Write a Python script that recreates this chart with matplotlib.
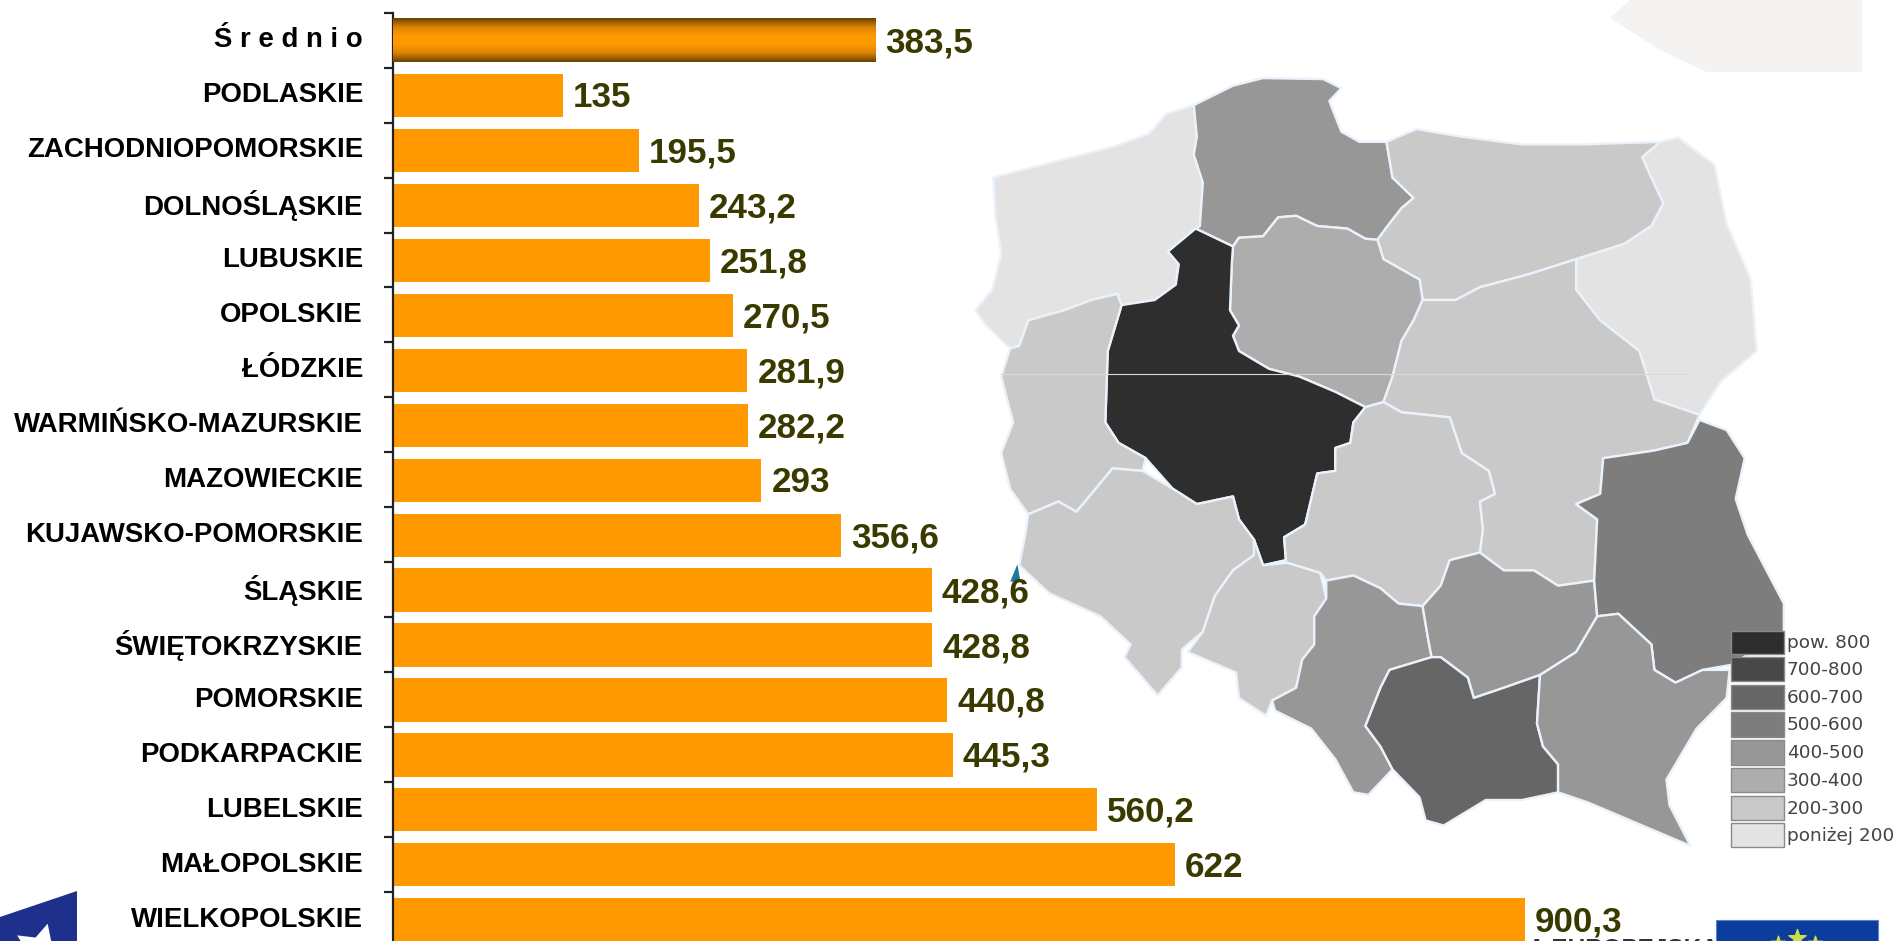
import numpy as np
import matplotlib
matplotlib.use("Agg")
import matplotlib.pyplot as plt
from matplotlib.patches import Polygon, Rectangle
from matplotlib.colors import LinearSegmentedColormap

W, H = 1894, 941
plt.rcParams['font.family'] = ['Liberation Sans', 'DejaVu Sans']

regions = ["Ś r e d n i o", "PODLASKIE", "ZACHODNIOPOMORSKIE", "DOLNOŚLĄSKIE", "LUBUSKIE",
           "OPOLSKIE", "ŁÓDZKIE", "WARMIŃSKO-MAZURSKIE", "MAZOWIECKIE", "KUJAWSKO-POMORSKIE",
           "ŚLĄSKIE", "ŚWIĘTOKRZYSKIE", "POMORSKIE", "PODKARPACKIE", "LUBELSKIE",
           "MAŁOPOLSKIE", "WIELKOPOLSKIE"]
values = [383.5, 135, 195.5, 243.2, 251.8, 270.5, 281.9, 282.2, 293, 356.6,
          428.6, 428.8, 440.8, 445.3, 560.2, 622, 900.3]
value_labels = ["383,5", "135", "195,5", "243,2", "251,8", "270,5", "281,9", "282,2", "293",
                "356,6", "428,6", "428,8", "440,8", "445,3", "560,2", "622", "900,3"]

legend_labels = ["pow. 800", "700-800", "600-700", "500-600", "400-500", "300-400", "200-300", "poniżej 200"]
legend_colors = ["#2e2e2e", "#484848", "#666666", "#7d7d7d", "#979797", "#adadad", "#c9c9c9", "#e3e3e3"]
bin_edges = [200, 300, 400, 500, 600, 700, 800]

outlines = {
"ZACHODNIOPOMORSKIE": [(72,250),(130,232),(210,208),(270,190),(330,165),(360,125),(405,108),(410,170),(405,205),(420,260),(415,345),(408,350),(362,395),(380,420),(375,460),(340,490),(285,500),(278,478),(235,490),(190,510),(130,530),(115,580),(100,585),(60,540),(42,510),(70,470),(85,400),(75,320)],
"POMORSKIE": [(405,108),(470,70),(520,55),(620,57),(650,75),(630,100),(650,160),(680,180),(725,180),(735,250),(770,290),(750,310),(730,340),(710,372),(690,370),(660,350),(610,345),(575,325),(545,328),(520,365),(480,368),(470,385),(408,350),(415,345),(420,260),(405,205),(410,170)],
"WARMIŃSKO-MAZURSKIE": [(725,180),(775,155),(850,170),(950,185),(1050,185),(1180,180),(1150,210),(1165,250),(1185,300),(1165,345),(1120,380),(1040,410),(960,440),(880,465),(840,490),(800,490),(785,490),(780,450),(720,410),(710,372),(730,340),(750,310),(770,290),(735,250)],
"PODLASKIE": [(1180,180),(1210,172),(1270,225),(1290,340),(1330,450),(1340,590),(1280,650),(1245,715),(1170,685),(1145,590),(1080,530),(1040,470),(1040,410),(1120,380),(1165,345),(1185,300),(1165,250),(1150,210)],
"KUJAWSKO-POMORSKIE": [(470,385),(480,368),(520,365),(545,328),(575,325),(610,345),(660,350),(690,370),(710,372),(720,410),(780,450),(785,490),(770,530),(750,570),(735,640),(720,690),(690,700),(640,670),(580,640),(530,625),(480,590),(470,560),(480,540),(465,510),(468,420)],
"MAZOWIECKIE": [(785,490),(800,490),(840,490),(880,465),(960,440),(1040,410),(1040,470),(1080,530),(1145,590),(1170,685),(1245,715),(1225,770),(1170,785),(1085,800),(1080,870),(1040,890),(1075,920),(1070,1040),(1010,1050),(970,1020),(920,1020),(880,985),(885,940),(880,885),(905,870),(895,825),(850,790),(830,720),(790,715),(750,710),(720,690),(735,640),(750,570),(770,530)],
"WIELKOPOLSKIE": [(408,350),(470,385),(468,420),(465,510),(480,540),(470,560),(480,590),(530,625),(580,640),(640,670),(690,700),(670,730),(665,770),(640,780),(640,825),(610,830),(590,930),(555,955),(558,1000),(520,1010),(505,960),(480,920),(470,875),(410,890),(370,860),(325,800),(280,770),(258,730),(262,590),(285,500),(340,490),(375,460),(380,420),(362,395)],
"LUBUSKIE": [(130,530),(190,510),(235,490),(278,478),(285,500),(262,590),(258,730),(280,770),(325,800),(320,825),(270,820),(235,870),(210,905),(180,885),(130,910),(100,860),(85,790),(105,730),(85,640),(100,585),(115,580)],
"DOLNOŚLĄSKIE": [(130,910),(180,885),(210,905),(235,870),(270,820),(320,825),(370,860),(410,890),(470,875),(480,920),(505,960),(505,990),(470,1020),(440,1070),(420,1140),(385,1175),(385,1210),(345,1265),(290,1190),(300,1165),(250,1110),(165,1065),(115,1010),(125,950)],
"ŁÓDZKIE": [(690,700),(720,690),(750,710),(790,715),(830,720),(850,790),(895,825),(905,870),(880,885),(885,940),(880,985),(830,1000),(815,1050),(785,1090),(745,1085),(715,1055),(670,1030),(625,1040),(615,1025),(560,1005),(520,1010),(558,1000),(555,955),(590,930),(610,830),(640,825),(640,780),(665,770),(670,730)],
"OPOLSKIE": [(520,1010),(560,1005),(615,1025),(625,1075),(605,1110),(605,1165),(585,1195),(575,1250),(535,1275),(525,1305),(480,1270),(475,1220),(395,1180),(420,1140),(440,1070),(470,1020),(505,990),(505,960)],
"ŚLĄSKIE": [(625,1040),(670,1030),(715,1055),(745,1085),(785,1090),(795,1160),(800,1190),(730,1215),(715,1250),(690,1325),(715,1365),(735,1410),(695,1460),(670,1455),(640,1390),(600,1330),(540,1295),(535,1275),(575,1250),(585,1195),(605,1165),(605,1110),(625,1075)],
"ŚWIĘTOKRZYSKIE": [(880,985),(920,1020),(970,1020),(1010,1050),(1070,1040),(1075,1110),(1040,1180),(980,1225),(920,1250),(870,1270),(860,1230),(815,1190),(800,1190),(795,1160),(785,1090),(815,1050),(830,1000)],
"LUBELSKIE": [(1085,800),(1170,785),(1225,770),(1245,725),(1290,745),(1320,800),(1305,880),(1325,950),(1385,1085),(1385,1140),(1298,1205),(1250,1215),(1205,1240),(1170,1215),(1165,1165),(1110,1105),(1075,1110),(1070,1040),(1075,920),(1040,890),(1080,870)],
"MAŁOPOLSKIE": [(800,1190),(815,1190),(860,1230),(870,1270),(920,1250),(980,1225),(975,1320),(985,1365),(1010,1400),(1010,1455),(950,1470),(890,1470),(820,1520),(790,1510),(780,1465),(735,1410),(715,1365),(690,1325),(715,1250),(730,1215)],
"PODKARPACKIE": [(1075,1110),(1110,1105),(1165,1165),(1170,1215),(1205,1240),(1250,1215),(1295,1215),(1290,1270),(1240,1330),(1190,1430),(1195,1480),(1230,1560),(1150,1520),(1060,1475),(1010,1455),(1010,1400),(985,1365),(975,1320),(980,1225),(1040,1180)],
}

fig = plt.figure(figsize=(W/100, H/100), dpi=100, facecolor="white")

# --- Overlay in picture pixels: pale shape, map, legend, logos
bg = fig.add_axes([0, 0, 1, 1])
bg.set_xlim(0, W); bg.set_ylim(H, 0); bg.axis("off")

bg.add_patch(Polygon([(1610,18),(1630,0),(1862,0),(1862,72),(1707,72),(1660,50)],
                     closed=True, fc="#f5f3f1", ec="none"))

def to_px(pts):
    a = np.array(pts, float)
    return np.column_stack((950 + a[:, 0]/1.661, 50 + a[:, 1]/1.96))

lookup = dict(zip(regions, values))
for name, pts in outlines.items():
    col = legend_colors[::-1][int(np.digitize(lookup[name], bin_edges))]
    bg.add_patch(Polygon(to_px(pts), closed=True, fc=col, ec="#eaf3fb", lw=1.7, joinstyle="round"))

bg.add_patch(Polygon(to_px([(100,1042),(112,1008),(117,1042)]), closed=True, fc="#1a7a9a", ec="none"))
line_pts = to_px([(85,635),(1225,635)])
bg.plot(line_pts[:, 0], line_pts[:, 1], color="#d9d9d9", lw=0.8)

sw_top = [631, 657, 685, 712, 740, 768, 796, 823]
sw_h = [23, 24, 24, 25, 25, 24, 24, 24]
for t, h_, c, lab in zip(sw_top, sw_h, legend_colors, legend_labels):
    bg.add_patch(Rectangle((1731, t), 53, h_, fc=c, ec="#8a8a8a", lw=1.0))
    bg.text(1787, t + h_/2 + 1, lab, family="DejaVu Sans", fontsize=13.3, color="#444444",
            va="center", ha="left")

# logos at the bottom corners
bg.add_patch(Polygon([(0,917),(77,891),(77,941),(0,941)], closed=True, fc="#1f2f8c", ec="none"))
bg.scatter([40], [950], marker=(5, 1, -15), s=1600, color="white", zorder=3, linewidths=0)
bg.add_patch(Rectangle((1716, 920), 162, 30, fc="#0c3c9c", ec="#5b83c8", lw=0.8))
bg.scatter([1797], [938], marker="*", s=170, color="#c8e04a", zorder=3)
bg.scatter([1778, 1815], [943, 943], marker="*", s=110, color="#c8e04a", zorder=3)
bg.text(1528, 938, "A EUROPEJSKA", fontsize=17.5, fontweight="bold", color="#333333",
        va="top", ha="left", clip_on=True)

# --- Bar chart
top_px, band = 12.7, 54.96
ax = fig.add_axes([393/W, 1 - (top_px + band*17)/H, 1400/W, band*17/H])
ax.patch.set_alpha(0)
ax.set_xlim(0, 1400/1.257)
ax.set_ylim(17, 0)
ypos = np.arange(17) + 0.5 + 0.005
bars = ax.barh(ypos, values, height=0.785, color="#ff9900", linewidth=0)

grad = LinearSegmentedColormap.from_list("g", ["#6e4300", "#d98300", "#ff9900", "#ff9900", "#d98300", "#6e4300"])
b0 = bars[0]
ax.imshow(np.linspace(0, 1, 64).reshape(-1, 1), cmap=grad, aspect="auto",
          extent=[0, values[0], b0.get_y() + b0.get_height(), b0.get_y()], zorder=3)
ax.set_xlim(0, 1400/1.257); ax.set_ylim(17, 0)

for s in ["top", "right", "bottom"]:
    ax.spines[s].set_visible(False)
ax.spines["left"].set_color("#222222")
ax.spines["left"].set_linewidth(1.6)
ax.set_xticks([])
ax.set_yticks(np.arange(17))
ax.set_yticklabels([])
ax.tick_params(axis="y", length=6.5, width=1.6, color="#222222")

data_y = ax.get_yaxis_transform()
for y, v, cat, vl in zip(ypos, values, regions, value_labels):
    ax.annotate(cat, xy=(0, y), xycoords=data_y, xytext=(-30*0.72, 0), textcoords="offset points",
                ha="right", va="center", fontsize=19.9, fontweight="bold", color="black",
                annotation_clip=False)
    ax.annotate(vl, xy=(v, y), xytext=(10*0.72, -2.5*0.72), textcoords="offset points",
                ha="left", va="center", fontsize=25.2, fontweight="bold", color="#3a3a00",
                annotation_clip=False)

fig.savefig("out.png", dpi=100)
